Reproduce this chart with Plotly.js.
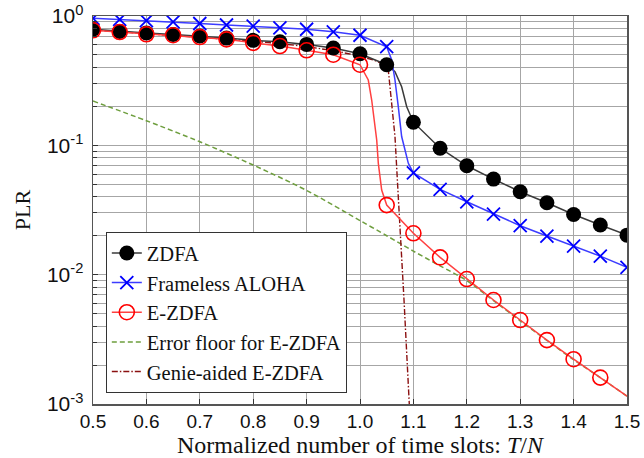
<!DOCTYPE html>
<html>
<head>
<meta charset="utf-8">
<script src="https://cdn.plot.ly/plotly-3.0.1.min.js"></script>
<style>html,body{margin:0;padding:0;background:#fff}#plot{width:644px;height:458px}</style>
</head>
<body>
<div id="plot"></div>
<script>
// ---- data ----
const xMarks = [0.5,0.55,0.6,0.65,0.7,0.75,0.8,0.85,0.9,0.95,1.0,1.05,1.1,1.15,1.2,1.25,1.3,1.35,1.4,1.45,1.5];

const zdfa = [0.79,0.76,0.74,0.72,0.70,0.675,0.648,0.632,0.603,0.566,0.511,0.42,0.151,0.095,0.0695,0.0548,0.0438,0.036,0.0292,0.0242,0.0202];
const zdfaKneeX = [1.0655,1.078,1.0875];
const zdfaKneeY = [0.371,0.284,0.199];

const aloha = [0.96,0.94,0.92,0.90,0.875,0.852,0.835,0.81,0.79,0.755,0.71,0.579,0.0612,0.0457,0.0366,0.0294,0.0239,0.0199,0.0166,0.0139,0.0114];
const alohaKneeX = [1.0594,1.0655,1.0717,1.078,1.0843,1.0905];
const alohaKneeY = [0.457,0.32,0.199,0.117,0.092,0.0726];

const ezdfaX = [0.5,0.55,0.6,0.65,0.7,0.75,0.8,0.85,0.9,0.95,1.0,1.05,1.1,1.15,1.2,1.25,1.3,1.35,1.4,1.45];
const ezdfa = [0.775,0.752,0.722,0.71,0.688,0.66,0.62,0.586,0.543,0.502,0.42,0.0345,0.0209,0.0136,0.00925,0.00637,0.00446,0.00312,0.00222,0.0016];
const ezdfaKneeX = [1.0155,1.0219,1.0281,1.0313,1.0343,1.0406,1.5];
const ezdfaKneeY = [0.32,0.224,0.139,0.11,0.0726,0.0451,0.00115];

const floorX = [0.5,0.6,0.7,0.8,0.9,1.0,1.05,1.1,1.15,1.2,1.25,1.3,1.35,1.4,1.45,1.5];
const floorY = [0.220,0.155,0.1066,0.0704,0.0448,0.0262,0.0200,0.0152,0.0117,0.0090,0.0063,0.0044,0.0031,0.0022,0.0016,0.00115];

const genieX = [0.5,0.55,0.6,0.65,0.7,0.75,0.8,0.85,0.9,0.95,1.0,1.03,1.045,1.053,1.0594,1.0655,1.0717,1.0749,1.081,1.0824,1.0923];
const genieY = [0.78,0.755,0.73,0.71,0.69,0.665,0.64,0.612,0.58,0.54,0.49,0.45,0.42,0.382,0.199,0.117,0.04,0.0235,0.0096,0.0064,0.001];

const xTicks = [0.5,0.6,0.7,0.8,0.9,1.0,1.1,1.2,1.3,1.4,1.5];
const yTicks = [1,0.1,0.01,0.001];
const yTickText = ['10<sup>0</sup>','10<sup>-1</sup>','10<sup>-2</sup>','10<sup>-3</sup>'];
const yMinor = [0.002,0.003,0.004,0.005,0.006,0.007,0.008,0.009,0.02,0.03,0.04,0.05,0.06,0.07,0.08,0.09,0.2,0.3,0.4,0.5,0.6,0.7,0.8,0.9];

const names = ['ZDFA','Frameless ALOHA','E-ZDFA','Error floor for E-ZDFA','Genie-aided E-ZDFA'];

// merge marker points with extra curve points (sorted by x)
function merge(xa, ya, xb, yb) {
  const pts = xa.map((x,i)=>[x,ya[i]]).concat(xb.map((x,i)=>[x,yb[i]]));
  pts.sort((a,b)=>a[0]-b[0]);
  return {x: pts.map(p=>p[0]), y: pts.map(p=>p[1])};
}
const zLine = merge(xMarks, zdfa, zdfaKneeX, zdfaKneeY);
const aLine = merge(xMarks, aloha, alohaKneeX, alohaKneeY);
const eLine = merge(ezdfaX, ezdfa, ezdfaKneeX, ezdfaKneeY);

const cBlack = '#000000', cBlackLine = '#3a3a3a';
const cBlue = '#0000ff', cBlueLine = '#3c3cff';
const cRed = '#ff0000', cRedLine = '#ff4040';
const cGreen = '#6e9e3e', cGenie = '#8b1010';

const mkZ = {symbol:'circle', size:15, color:cBlack, line:{width:0}};
const mkA = {symbol:'x-thin-open', size:13, color:cBlue, line:{width:1.8, color:cBlue}};
const mkE = {symbol:'circle-open', size:15, color:cRed, line:{width:1.6, color:cRed}};

const serif = 'Liberation Serif, Times New Roman, serif';
const sans = 'Liberation Sans, Arial, sans-serif';

const traces = [
  // curves
  {x: floorX, y: floorY, mode:'lines', line:{color:cGreen, width:1.5, dash:'5px,3px', shape:'spline', smoothing:0.8}, showlegend:false, hoverinfo:'skip'},
  {x: genieX, y: genieY, mode:'lines', line:{color:cGenie, width:1.4, dash:'6px,2px,1.5px,2px'}, showlegend:false, hoverinfo:'skip'},
  {x: zLine.x, y: zLine.y, mode:'lines', line:{color:cBlackLine, width:1.5}, showlegend:false, hoverinfo:'skip'},
  {x: aLine.x, y: aLine.y, mode:'lines', line:{color:cBlueLine, width:1.5}, showlegend:false, hoverinfo:'skip'},
  {x: eLine.x, y: eLine.y, mode:'lines', line:{color:cRedLine, width:1.5}, showlegend:false, hoverinfo:'skip'},
  // markers
  {x: xMarks, y: zdfa, mode:'markers', marker:mkZ, showlegend:false},
  {x: xMarks, y: aloha, mode:'markers', marker:mkA, showlegend:false},
  {x: ezdfaX, y: ezdfa, mode:'markers', marker:mkE, showlegend:false},
  // legend entries
  {x:[null], y:[null], name:names[0], mode:'lines+markers', line:{color:cBlackLine, width:1.5}, marker:mkZ, legendgroup:'a'},
  {x:[null], y:[null], name:names[1], mode:'lines+markers', line:{color:cBlueLine, width:1.5}, marker:mkA, legendgroup:'b'},
  {x:[null], y:[null], name:names[2], mode:'lines+markers', line:{color:cRedLine, width:1.5}, marker:mkE, legendgroup:'c'},
  {x:[null], y:[null], name:names[3], mode:'lines', line:{color:cGreen, width:1.5, dash:'5px,3px'}, legendgroup:'d'},
  {x:[null], y:[null], name:names[4], mode:'lines', line:{color:cGenie, width:1.4, dash:'6px,2px,1.5px,2px'}, legendgroup:'e'}
];

const gridC = '#a6a6a6';
const layout = {
  width:644, height:458,
  margin:{l:93, r:17, t:16, b:54},
  paper_bgcolor:'#fff', plot_bgcolor:'#fff',
  showlegend:true,
  legend:{x:0.024, y:0.443, xanchor:'left', yanchor:'top', bgcolor:'#fff', bordercolor:'#333', borderwidth:1,
          font:{family:serif, size:20.5, color:'#111'},
          traceorder:'grouped', tracegroupgap:0},
  xaxis:{range:[0.5,1.5], tickmode:'array', tickvals:xTicks, ticktext:xTicks.map(v=>v.toFixed(1)),
         showgrid:true, gridcolor:gridC, gridwidth:1, zeroline:false,
         showline:true, linecolor:'#555', linewidth:1.5, mirror:true,
         ticks:'inside', ticklen:5, tickcolor:'#333', tickwidth:1,
         tickfont:{family:sans, size:19, color:'#111'},
         title:{text:'Normalized number of time slots: <i>T</i>/<i>N</i>', standoff:7,
                font:{family:serif, size:24, color:'#111'}}},
  yaxis:{type:'log', range:[-3,0], tickmode:'array', tickvals:yTicks, ticktext:yTickText,
         showgrid:true, gridcolor:gridC, gridwidth:1, zeroline:false,
         showline:true, linecolor:'#555', linewidth:1.5, mirror:true,
         ticks:'inside', ticklen:5, tickcolor:'#333', tickwidth:1, ticklabelstandoff:4,
         minor:{tickmode:'array', tickvals:yMinor, showgrid:true, gridcolor:gridC, gridwidth:1, ticks:'inside', ticklen:4, tickcolor:'#333'},
         tickfont:{family:sans, size:21, color:'#111'},
         title:{text:'PLR', standoff:10,
                font:{family:serif, size:22, color:'#111'}}}
};

Plotly.newPlot('plot', traces, layout, {staticPlot:true, displayModeBar:false});
</script>
</body>
</html>
